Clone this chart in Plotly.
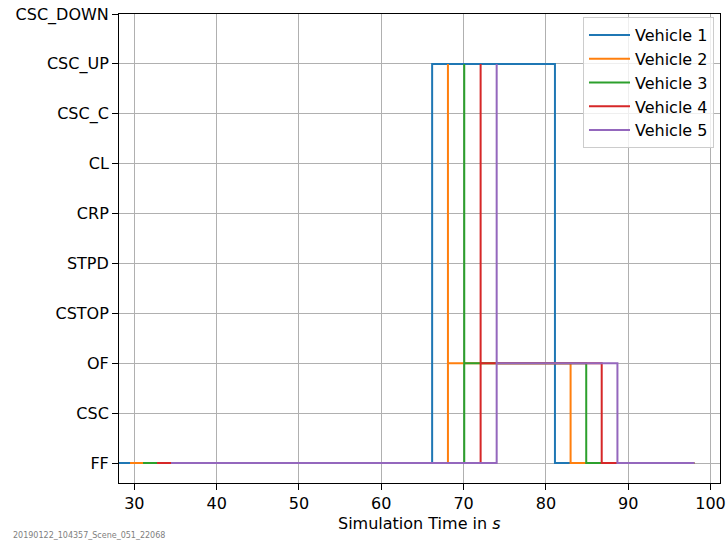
import plotly.graph_objects as go

# State categories (bottom to top)
states = ["FF", "CSC", "OF", "CSTOP", "STPD", "CRP", "CL", "CSC_C", "CSC_UP", "CSC_DOWN"]

# Transition times (s) and states per vehicle
v1_t = [27.8, 66.18, 81.10, 98.02]
v1_s = ["FF", "CSC_UP", "FF", "FF"]

v2_t = [29.48, 68.10, 68.10, 83.00, 98.02]
v2_s = ["FF", "CSC_UP", "OF", "FF", "FF"]

v3_t = [31.06, 70.08, 70.08, 84.90, 98.02]
v3_s = ["FF", "CSC_UP", "OF", "FF", "FF"]

v4_t = [32.76, 72.07, 72.07, 86.78, 98.02]
v4_s = ["FF", "CSC_UP", "OF", "FF", "FF"]

v5_t = [34.46, 74.02, 74.02, 88.69, 98.02]
v5_s = ["FF", "CSC_UP", "OF", "FF", "FF"]

names = ["Vehicle 1", "Vehicle 2", "Vehicle 3", "Vehicle 4", "Vehicle 5"]
colors = ["#1f77b4", "#ff7f0e", "#2ca02c", "#d62728", "#9467bd"]
x_ticks = [30, 40, 50, 60, 70, 80, 90, 100]
x_title = "Simulation Time in <i>s</i>"
footnote = "20190122_104357_Scene_051_22068"

series = [(v1_t, v1_s), (v2_t, v2_s), (v3_t, v3_s), (v4_t, v4_s), (v5_t, v5_s)]
idx = {s: i for i, s in enumerate(states)}

fig = go.Figure()
for (t, s), name, c in zip(series, names, colors):
    fig.add_trace(go.Scatter(
        x=t, y=[idx[v] for v in s], mode="lines", name=name,
        line=dict(color=c, width=2, shape="hv"), legendgroup=name,
    ))

font = "DejaVu Sans, sans-serif"
fig.update_layout(
    width=726, height=544,
    margin=dict(l=119, r=6, t=14, b=61),
    paper_bgcolor="white", plot_bgcolor="white",
    font=dict(family=font, size=16, color="black"),
    showlegend=True,
    legend=dict(
        x=0.99, y=0.9936, xanchor="right", yanchor="top",
        bgcolor="rgba(255,255,255,0.8)", bordercolor="#cccccc", borderwidth=1,
        font=dict(family=font, size=16), tracegroupgap=0, itemwidth=41,
    ),
    xaxis=dict(
        range=[28.14, 101.15], tickvals=x_ticks, ticks="outside", ticklen=6,
        tickwidth=1, tickcolor="black", showgrid=True, gridcolor="#b0b0b0",
        gridwidth=1, showline=True, linecolor="black", linewidth=1, mirror=True,
        zeroline=False, automargin=False, ticklabeloverflow="allow",
    ),
    yaxis=dict(
        range=[-0.4, 9.0], tickvals=list(range(len(states))), ticktext=states,
        ticks="outside", ticklen=6, tickwidth=1, tickcolor="black",
        showgrid=True, gridcolor="#b0b0b0", gridwidth=1, showline=True,
        linecolor="black", linewidth=1, mirror=True, zeroline=False,
        automargin=False, ticklabeloverflow="allow",
    ),
    annotations=[
        dict(text=x_title, xref="paper", yref="paper", x=0.5, y=-0.0853,
             xanchor="center", yanchor="middle", showarrow=False,
             font=dict(family=font, size=16, color="black")),
        dict(text=footnote, xref="paper", yref="paper", x=-0.180, y=-0.113,
             xanchor="left", yanchor="middle", showarrow=False,
             font=dict(family=font, size=8, color="#808080")),
    ],
)

# remove the default page margin so the figure fills the window exactly
fig.write_html(
    "out.html",
    config={"displayModeBar": False},
    post_script="document.body.style.margin='0';",
)
